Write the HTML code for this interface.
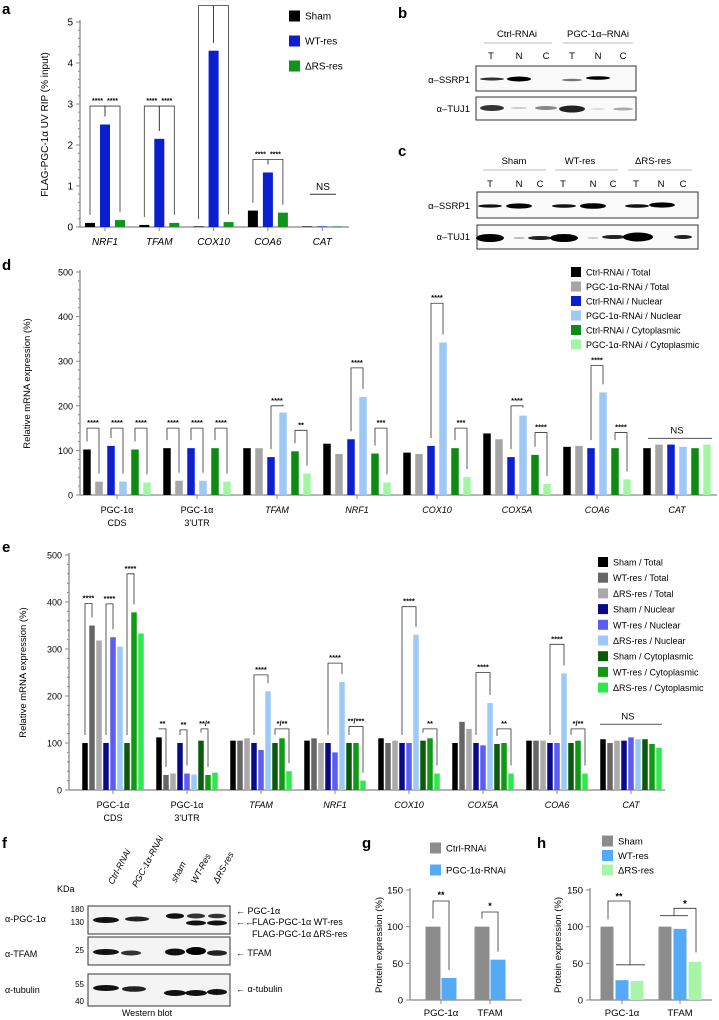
<!DOCTYPE html>
<html><head><meta charset="utf-8">
<style>
body{margin:0;background:#fff;}
svg{display:block;font-family:"Liberation Sans",Arial,sans-serif;}
.pl{font-weight:bold;font-size:15px;}
</style></head>
<body>
<svg id="fig" width="719" height="1020" viewBox="0 0 719 1020" xmlns="http://www.w3.org/2000/svg">
<text class="pl" x="2" y="14">a</text>
<text class="pl" x="398" y="18">b</text>
<text class="pl" x="398" y="156">c</text>
<text class="pl" x="2" y="270">d</text>
<text class="pl" x="2" y="552">e</text>
<text class="pl" x="2" y="848">f</text>
<text class="pl" x="362" y="848">g</text>
<text class="pl" x="537" y="848">h</text>

<g font-size="9.5">
<text x="517" y="37" text-anchor="middle">Ctrl-RNAi</text>
<text x="598" y="37" text-anchor="middle">PGC-1α–RNAi</text>
<line x1="484" y1="43" x2="552" y2="43" stroke="#bbb"/><line x1="563" y1="43" x2="633" y2="43" stroke="#bbb"/>
<g text-anchor="middle"><text x="491" y="59">T</text><text x="519" y="59">N</text><text x="546" y="59">C</text><text x="572" y="59">T</text><text x="598" y="59">N</text><text x="623" y="59">C</text></g>
<rect x="476" y="66" width="160" height="25" fill="#fafafa" stroke="#333"/>
<rect x="476" y="97" width="160" height="23" fill="#fafafa" stroke="#333"/>
<text x="470" y="83" text-anchor="end">α–SSRP1</text><text x="470" y="112" text-anchor="end">α–TUJ1</text>
<ellipse cx="492" cy="79" rx="12" ry="1.5" fill="#333"/><ellipse cx="519" cy="79" rx="12" ry="2.5" fill="#000"/>
<ellipse cx="572" cy="80" rx="10" ry="1.2" fill="#777"/><ellipse cx="598" cy="78" rx="12" ry="1.8" fill="#000"/>
<ellipse cx="492" cy="108" rx="12" ry="3" fill="#333"/><ellipse cx="519" cy="108" rx="8" ry="1" fill="#ccc"/><ellipse cx="546" cy="108" rx="11" ry="2" fill="#888"/>
<ellipse cx="572" cy="109" rx="13" ry="3.5" fill="#222"/><ellipse cx="598" cy="109" rx="7" ry="1" fill="#ddd"/><ellipse cx="623" cy="109" rx="10" ry="1.5" fill="#aaa"/>
</g>
<g font-size="9.5">
<text x="514" y="164" text-anchor="middle">Sham</text><text x="580" y="164" text-anchor="middle">WT-res</text><text x="653" y="164" text-anchor="middle">ΔRS-res</text>
<line x1="483" y1="170" x2="546" y2="170" stroke="#bbb"/><line x1="555" y1="170" x2="618" y2="170" stroke="#bbb"/><line x1="628" y1="170" x2="692" y2="170" stroke="#bbb"/>
<g text-anchor="middle"><text x="490" y="187">T</text><text x="519" y="187">N</text><text x="540" y="187">C</text><text x="563" y="187">T</text><text x="593" y="187">N</text><text x="613" y="187">C</text><text x="636" y="187">T</text><text x="661" y="187">N</text><text x="683" y="187">C</text></g>
<rect x="477" y="192" width="221" height="26" fill="#fafafa" stroke="#333"/>
<rect x="477" y="225" width="221" height="24" fill="#fafafa" stroke="#333"/>
<text x="470" y="209" text-anchor="end">α–SSRP1</text><text x="470" y="240" text-anchor="end">α–TUJ1</text>
<ellipse cx="490" cy="206" rx="12" ry="1.6" fill="#111"/><ellipse cx="519" cy="206" rx="13" ry="2.6" fill="#000"/>
<ellipse cx="564" cy="206" rx="12" ry="1.8" fill="#111"/><ellipse cx="593" cy="206" rx="13" ry="2.8" fill="#000"/>
<ellipse cx="637" cy="206" rx="12" ry="1.8" fill="#111"/><ellipse cx="662" cy="205" rx="13" ry="2.6" fill="#000"/>
<ellipse cx="490" cy="238" rx="14" ry="4" fill="#000"/><ellipse cx="519" cy="238" rx="6" ry="1" fill="#bbb"/><ellipse cx="540" cy="238" rx="12" ry="2" fill="#222"/>
<ellipse cx="564" cy="238" rx="14" ry="4" fill="#000"/><ellipse cx="593" cy="238" rx="6" ry="1" fill="#ccc"/><ellipse cx="614" cy="237" rx="12" ry="2" fill="#222"/>
<ellipse cx="638" cy="237" rx="15" ry="4.5" fill="#000"/><ellipse cx="683" cy="237" rx="9" ry="2" fill="#222"/>
</g>

<g font-size="9">
<g font-style="italic">
<text transform="translate(113,885) rotate(-62)">Ctrl-RNAi</text>
<text transform="translate(137,888) rotate(-62)">PGC-1α-RNAi</text>
<text transform="translate(176,883) rotate(-62)">sham</text>
<text transform="translate(196,884) rotate(-62)">WT-Res</text>
<text transform="translate(218,884) rotate(-62)">ΔRS-res</text>
</g>
<text x="57" y="892">KDa</text>
<rect x="88" y="906" width="142" height="28" fill="#f4f4f4" stroke="#333"/>
<rect x="88" y="937" width="142" height="28" fill="#f4f4f4" stroke="#333"/>
<rect x="88" y="974" width="142" height="32" fill="#f4f4f4" stroke="#333"/>
<g font-size="8" text-anchor="end"><text x="84" y="912">180</text><text x="84" y="925">130</text><text x="84" y="953">25</text><text x="84" y="987">55</text><text x="84" y="1004">40</text></g>
<text x="5" y="922">α-PGC-1α</text><text x="5" y="957">α-TFAM</text><text x="5" y="993">α-tubulin</text>
<ellipse cx="106" cy="920" rx="13" ry="3" fill="#111"/><ellipse cx="137" cy="919" rx="12" ry="2.5" fill="#222"/>
<ellipse cx="175" cy="916" rx="9" ry="2.8" fill="#111"/><ellipse cx="196" cy="916" rx="9" ry="2.5" fill="#333"/><ellipse cx="217" cy="916" rx="9" ry="2.3" fill="#333"/>
<ellipse cx="196" cy="923" rx="10" ry="2.5" fill="#111"/><ellipse cx="217" cy="923" rx="10" ry="2.5" fill="#111"/>
<ellipse cx="106" cy="952" rx="13" ry="3" fill="#111"/><ellipse cx="131" cy="953" rx="10" ry="2.5" fill="#333"/>
<ellipse cx="175" cy="952" rx="10" ry="3.5" fill="#111"/><ellipse cx="196" cy="951" rx="10" ry="4" fill="#000"/><ellipse cx="217" cy="953" rx="10" ry="2.8" fill="#222"/>
<ellipse cx="106" cy="988" rx="13" ry="3" fill="#111"/><ellipse cx="134" cy="989" rx="12" ry="2.8" fill="#222"/>
<ellipse cx="175" cy="993" rx="11" ry="3" fill="#111"/><ellipse cx="196" cy="993" rx="11" ry="3" fill="#111"/><ellipse cx="217" cy="992" rx="10" ry="3" fill="#111"/>
<text x="147" y="1016" text-anchor="middle">Western blot</text>
<g><text x="236" y="914">← PGC-1α</text><text x="236" y="925">←←</text><text x="252" y="925">FLAG-PGC-1α WT-res</text><text x="252" y="937">FLAG-PGC-1α ΔRS-res</text>
<text x="236" y="956">← TFAM</text><text x="236" y="992">← α-tubulin</text></g>
</g>

<g id="charts"></g>
</svg>
<script>
// ---------- Panel a data ----------
const aCats = ["NRF1","TFAM","COX10","COA6","CAT"];
const aSham = [0.1,0.05,0.0,0.4,0.0];
const aWT   = [2.5,2.15,4.3,1.33,0.0];
const aDRS  = [0.17,0.1,0.12,0.35,0.0];
const aTicks = [0,1,2,3,4,5];
const aSeriesNames = ["Sham","WT-res","ΔRS-res"];

// ---------- Panel d data ----------
const dCats = ["PGC-1α|CDS","PGC-1α|3'UTR","TFAM","NRF1","COX10","COX5A","COA6","CAT"];
const dSeriesNames = ["Ctrl-RNAi / Total","PGC-1α-RNAi / Total","Ctrl-RNAi / Nuclear","PGC-1α-RNAi / Nuclear","Ctrl-RNAi / Cytoplasmic","PGC-1α-RNAi / Cytoplasmic"];
const dCtrlTotal = [102,105,105,115,95,138,108,105];
const dPgcTotal  = [30,32,105,92,92,125,110,113];
const dCtrlNuc   = [110,105,85,125,110,85,105,113];
const dPgcNuc    = [30,32,185,220,342,178,230,108];
const dCtrlCyto  = [102,105,98,93,105,90,105,105];
const dPgcCyto   = [28,30,48,28,40,25,35,113];
const dTicks = [0,100,200,300,400,500];

// ---------- Panel e data ----------
const eCats = dCats;
const eSeriesNames = ["Sham / Total","WT-res / Total","ΔRS-res / Total","Sham / Nuclear","WT-res / Nuclear","ΔRS-res / Nuclear","Sham / Cytoplasmic","WT-res / Cytoplasmic","ΔRS-res / Cytoplasmic"];
const eShamT = [100,112,105,105,110,100,105,108];
const eWTT   = [350,32,105,110,100,145,105,100];
const eDRST  = [318,35,110,100,105,130,105,105];
const eShamN = [100,100,100,100,100,100,100,105];
const eWTN   = [325,35,85,80,100,95,100,112];
const eDRSN  = [305,33,210,230,330,185,248,108];
const eShamC = [100,105,100,100,105,98,100,108];
const eWTC   = [378,32,110,100,110,100,105,98];
const eDRSC  = [333,37,40,20,35,35,35,90];
const eTicks = [0,100,200,300,400,500];

// ---------- Panel g / h data ----------
const gCats = ["PGC-1α","TFAM"];
const gCtrl = [100,100];
const gPgc  = [30,55];
const hSham = [100,100];
const hWT   = [27,97];
const hDRS  = [26,52];
const ghTicks = [0,50,100,150];

const NS="http://www.w3.org/2000/svg";
const root=document.getElementById('charts');
function mk(tag,attrs,parent){const e=document.createElementNS(NS,tag);for(const k in attrs)e.setAttribute(k,attrs[k]);(parent||root).appendChild(e);return e;}
function txt(s,attrs,parent){const e=mk('text',attrs,parent);e.textContent=s;return e;}

function chart(opt){
  const g=mk('g',{});
  
  
  const y=v=>opt.y0-v/opt.vmax*(opt.y0-opt.yTop);
  const ax=mk('line',{x1:opt.ax,y1:y(opt.vmax)-2,x2:opt.ax,y2:opt.y0,stroke:'#888','stroke-width':1.3},g);
  
  
  const xa=mk('line',{x1:opt.ax,y1:opt.y0,x2:opt.axEnd,y2:opt.y0,stroke:'#888','stroke-width':1.3},g);
  
  
  opt.ticks.forEach((t,i)=>{
    mk('line',{x1:opt.ax-4,y1:y(t),x2:opt.ax,y2:y(t),stroke:'#888'},g);
    if(opt.minor && i<opt.ticks.length-1){for(let k=1;k<opt.minor;k++){const vv=t+(opt.ticks[i+1]-t)*k/opt.minor;mk('line',{x1:opt.ax-2,y1:y(vv),x2:opt.ax,y2:y(vv),stroke:'#888'},g);}}
    const tl=txt(String(t),{x:opt.ax-7,y:y(t)+3.5,'text-anchor':'end','font-size':opt.fs||10},g);
    
    
  });
  const yl=txt(opt.ylabel,{transform:`translate(${opt.ylx},${(opt.y0+y(opt.vmax))/2}) rotate(-90)`,'text-anchor':'middle','font-size':opt.yfs||10},g);
  
  
  const ns=opt.series.length;
  opt.cats.forEach((c,ci)=>{
    const gc=opt.gx(ci);
    mk('line',{x1:gc,y1:opt.y0,x2:gc,y2:opt.y0+4,stroke:'#888'},g);
    const parts=c.split('|');
    parts.forEach((p,pi)=>{
      const lab=txt(p,{x:gc,y:opt.y0+opt.labOff+pi*13,'text-anchor':'middle','font-size':opt.fs||10,'font-style':(opt.italic&&parts.length==1)?'italic':'normal'},g);
      
      
    });
    opt.series.forEach((s,si)=>{
      const v=s[ci];
      const bx=gc+(si-(ns-1)/2)*opt.step-opt.bw/2;
      const r=mk('rect',{x:bx,y:Math.min(y(v),opt.y0-0.6),width:opt.bw,height:Math.max(opt.y0-y(v),0.6),fill:opt.colors[si]},g);
      
      
    });
  });
  (opt.brackets||[]).forEach(b=>{
    const [ci,s1,s2,top,label]=b;
    const gc=opt.gx(ci);
    const x1=gc+(s1-(ns-1)/2)*opt.step, x2=gc+(s2-(ns-1)/2)*opt.step;
    const ty=y(top);
    const p=mk('path',{d:`M${x1},${y(opt.series[s1][ci])-8}V${ty}H${x2}V${y(opt.series[s2][ci])-8}`,fill:'none',stroke:'#333','stroke-width':0.8},g);
    
    
    const st=txt(label,{x:(x1+x2)/2,y:ty-3,'text-anchor':'middle','font-size':opt.sfs||8,'font-weight':'bold'},g);
    
    
  });
  opt.legend.forEach((l,i)=>{
    const lg=mk('g',{},g);
    
    
    mk('rect',{x:opt.lx,y:opt.ly+i*opt.lstep-opt.lbox/2,width:opt.lbox,height:opt.lbox,fill:opt.colors[i]},lg);
    txt(l,{x:opt.lx+opt.lbox+5,y:opt.ly+i*opt.lstep+3.5,'font-size':opt.lfs||9.5},lg);
  });
  return {g,y};
}

const A=chart({name:'panel-a-chart',short:'a',cats:aCats,series:[aSham,aWT,aDRS],colors:['#000','#0b1fd0','#11941a'],
  ticks:aTicks,vmax:5,y0:227,yTop:22,ax:80,axEnd:349,gx:i=>105+i*54.3,bw:10,step:15,minor:5,
  ylabel:'FLAG-PGC-1α UV RIP (% input)',ylx:48,labOff:18,italic:true,sfs:7,
  brackets:[[0,0,1,2.95,'****'],[0,1,2,2.95,'****'],[1,0,1,2.95,'****'],[1,1,2,2.95,'****'],[2,0,1,5.4,'****'],[2,1,2,5.4,'****'],[3,0,1,1.65,'****'],[3,1,2,1.65,'****']],
  legend:aSeriesNames,lx:289,ly:16,lstep:25,lbox:11,lfs:10});
txt('NS',{x:323,y:A.y(0.9),'text-anchor':'middle','font-size':10});
mk('line',{x1:310,y1:A.y(0.8),x2:336,y2:A.y(0.8),stroke:'#333'});

const D=chart({name:'panel-d-chart',short:'d',cats:dCats,series:[dCtrlTotal,dPgcTotal,dCtrlNuc,dPgcNuc,dCtrlCyto,dPgcCyto],
  colors:['#000','#a6a6a6','#0b1fd0','#9ec9f5','#0c8a14','#a2f5a4'],
  ticks:dTicks,vmax:500,y0:495,yTop:272,ax:80,axEnd:717,gx:i=>117+i*80,bw:7.5,step:12,minor:5,fs:9,
  ylabel:'Relative mRNA expression (%)',ylx:30,yfs:9.5,labOff:18,italic:true,sfs:7.5,
  brackets:[[0,0,1,150,'****'],[0,2,3,150,'****'],[0,4,5,150,'****'],[1,0,1,150,'****'],[1,2,3,150,'****'],[1,4,5,150,'****'],
    [2,2,3,200,'****'],[2,4,5,145,'**'],[3,2,3,285,'****'],[3,4,5,150,'***'],[4,2,3,430,'****'],[4,4,5,150,'***'],
    [5,2,3,200,'****'],[5,4,5,140,'****'],[6,2,3,290,'****'],[6,4,5,140,'****']],
  legend:dSeriesNames,lx:571,ly:272,lstep:14.5,lbox:10,lfs:9});
txt('NS',{x:677,y:D.y(138),'text-anchor':'middle','font-size':9.5});
mk('line',{x1:648,y1:D.y(127),x2:712,y2:D.y(127),stroke:'#555'});

const E=chart({name:'panel-e-chart',short:'e',cats:eCats,series:[eShamT,eWTT,eDRST,eShamN,eWTN,eDRSN,eShamC,eWTC,eDRSC],
  colors:['#000','#666','#aaa','#0a0a86','#5a5cf5','#9ccaf8','#0a5a0a','#0e9a12','#2ee84e'],
  ticks:eTicks,vmax:500,y0:790,yTop:555,ax:69,axEnd:665,gx:i=>113+i*74,bw:5.5,step:7,minor:5,fs:9,
  ylabel:'Relative mRNA expression (%)',ylx:26,yfs:9.5,labOff:18,italic:true,sfs:7.5,
  brackets:[[0,0,1,397,'****'],[0,3,4,396,'****'],[0,6,7,460,'****'],[1,0,1,130,'**'],[1,3,4,128,'**'],[1,6,7,130,'**/*'],
    [2,3,5,245,'****'],[2,6,8,130,'*/**'],[3,3,5,270,'****'],[3,6,8,135,'**/***'],[4,3,5,390,'****'],[4,6,8,130,'**'],
    [5,3,5,250,'****'],[5,6,8,130,'**'],[6,3,5,310,'****'],[6,6,8,130,'*/**']],
  legend:eSeriesNames,lx:598,ly:562,lstep:15.7,lbox:10,lfs:9});
txt('NS',{x:628,y:E.y(150),'text-anchor':'middle','font-size':9.5});
mk('line',{x1:600,y1:E.y(140),x2:662,y2:E.y(140),stroke:'#555'});

const G=chart({name:'panel-g-chart',short:'g',cats:gCats,series:[gCtrl,gPgc],colors:['#8c8c8c','#55aaf5'],
  ticks:ghTicks,vmax:150,y0:1000,yTop:890,ax:410,axEnd:522,gx:i=>441+i*49,bw:15,step:16,minor:0,fs:9.5,
  ylabel:'Protein expression (%)',ylx:382,yfs:9.5,labOff:16,italic:false,sfs:9,
  brackets:[[0,0,1,135,'**'],[1,0,1,120,'*']],
  legend:['Ctrl-RNAi','PGC-1α-RNAi'],lx:430,ly:848,lstep:22,lbox:11,lfs:9.5});

const H=chart({name:'panel-h-chart',short:'h',cats:gCats,series:[hSham,hWT,hDRS],colors:['#8c8c8c','#55aaf5','#a8f5a8'],
  ticks:ghTicks,vmax:150,y0:1000,yTop:890,ax:590,axEnd:712,gx:i=>622+i*58,bw:13,step:15,minor:0,fs:9.5,
  ylabel:'Protein expression (%)',ylx:561,yfs:9.5,labOff:16,italic:false,
  brackets:[],
  legend:['Sham','WT-res','ΔRS-res'],lx:602,ly:841,lstep:14.5,lbox:11,lfs:9.5});
mk('path',{d:`M608,${H.y(110)}V${H.y(135)}H630V${H.y(48)}`,fill:'none',stroke:'#333','stroke-width':0.8});
mk('line',{x1:616,y1:H.y(48),x2:645,y2:H.y(48),stroke:'#333','stroke-width':0.8});
txt('**',{x:619,y:H.y(137),'text-anchor':'middle','font-size':9,'font-weight':'bold'});
mk('line',{x1:660,y1:H.y(115),x2:688,y2:H.y(115),stroke:'#333','stroke-width':0.8});
mk('path',{d:`M674,${H.y(115)}V${H.y(125)}H696V${H.y(65)}`,fill:'none',stroke:'#333','stroke-width':0.8});
txt('*',{x:685,y:H.y(127),'text-anchor':'middle','font-size':10,'font-weight':'bold'});
</script>
</body></html>
